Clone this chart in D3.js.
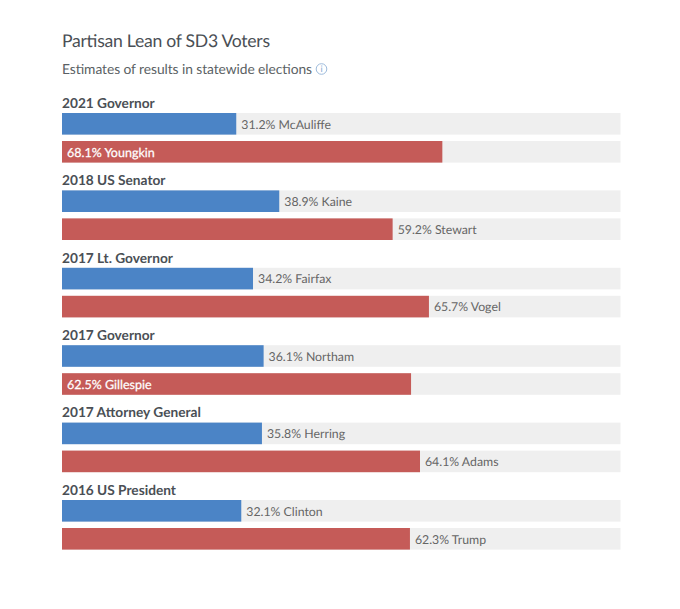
<!DOCTYPE html>
<html>
<head>
<meta charset="utf-8">
<script src="https://cdn.jsdelivr.net/npm/d3@7"></script>
<style>
    html, body { margin: 0; padding: 0; background: #fff; }
    svg { display: block; font-family: Lato, sans-serif; text-rendering: geometricPrecision; }
</style>
</head>
<body>
<svg id="chart" width="680" height="609"></svg>
<script>
const races = ["2021 Governor", "2018 US Senator", "2017 Lt. Governor", "2017 Governor", "2017 Attorney General", "2016 US President"];
const demNames = ["McAuliffe", "Kaine", "Fairfax", "Northam", "Herring", "Clinton"];
const demValues = [31.2, 38.9, 34.2, 36.1, 35.8, 32.1];
const repNames = ["Youngkin", "Stewart", "Vogel", "Gillespie", "Adams", "Trump"];
const repValues = [68.1, 59.2, 65.7, 62.5, 64.1, 62.3];
// these two labels sit inside their bars in the original
const insideLabels = ["Youngkin", "Gillespie"];

const svg = d3.select("#chart");

const x = d3.scaleLinear().domain([0, 100]).range([62, 620.5]);
const y = d3.scaleBand().domain(races).range([113, 577.4]);
const barHeight = 21.6;
const barGap = 28;

svg.append("text")
    .attr("x", 62).attr("y", 47)
    .attr("font-size", 17.6).attr("fill", "#4a4f55")
    .attr("textLength", 208)
    .text("Partisan Lean of SD3 Voters");

svg.append("text")
    .attr("x", 62).attr("y", 74)
    .attr("font-size", 13.8).attr("fill", "#5a5f64")
    .attr("textLength", 250)
    .text("Estimates of results in statewide elections");

// info icon
const info = svg.append("g").attr("transform", "translate(321.5,69)");
info.append("circle").attr("r", 5.3).attr("fill", "none").attr("stroke", "#9dbbdc").attr("stroke-width", 1);
info.append("text").attr("text-anchor", "middle").attr("y", 3.4)
    .attr("font-size", 9).attr("fill", "#7fa6d0").text("i");

const rows = races.map((race, i) => ({
    race,
    bars: [
        { name: demNames[i], value: demValues[i], color: "#4b84c6", offset: 0 },
        { name: repNames[i], value: repValues[i], color: "#c55b58", offset: barGap }
    ]
}));

const groups = svg.selectAll(".race")
    .data(rows)
    .enter()
    .append("g")
    .attr("class", "race")
    .attr("transform", d => `translate(0,${y(d.race)})`);

groups.append("text")
    .attr("x", 62).attr("y", -5.3)
    .attr("font-size", 13.7).attr("font-weight", 700).attr("fill", "#4a4f55")
    .text(d => d.race);

const bars = groups.selectAll(".bar")
    .data(d => d.bars)
    .enter()
    .append("g")
    .attr("class", "bar")
    .attr("transform", d => `translate(0,${d.offset})`);

bars.append("rect")
    .attr("x", x(0)).attr("width", x(100) - x(0))
    .attr("height", barHeight).attr("fill", "#efefef");

bars.append("rect")
    .attr("x", x(0)).attr("width", d => x(d.value) - x(0))
    .attr("height", barHeight).attr("fill", d => d.color);

bars.append("text")
    .attr("x", d => insideLabels.includes(d.name) ? x(0) + 5 : x(d.value) + 5)
    .attr("y", 15.6)
    .attr("font-size", d => insideLabels.includes(d.name) ? 12.5 : 12.3)
    .attr("font-weight", 400)
    .attr("stroke", d => insideLabels.includes(d.name) ? "#fff" : "none")
    .attr("stroke-width", 0.25)
    .attr("fill", d => insideLabels.includes(d.name) ? "#fff" : "#666")
    .text(d => `${d.value}% ${d.name}`);
</script>
</body>
</html>
